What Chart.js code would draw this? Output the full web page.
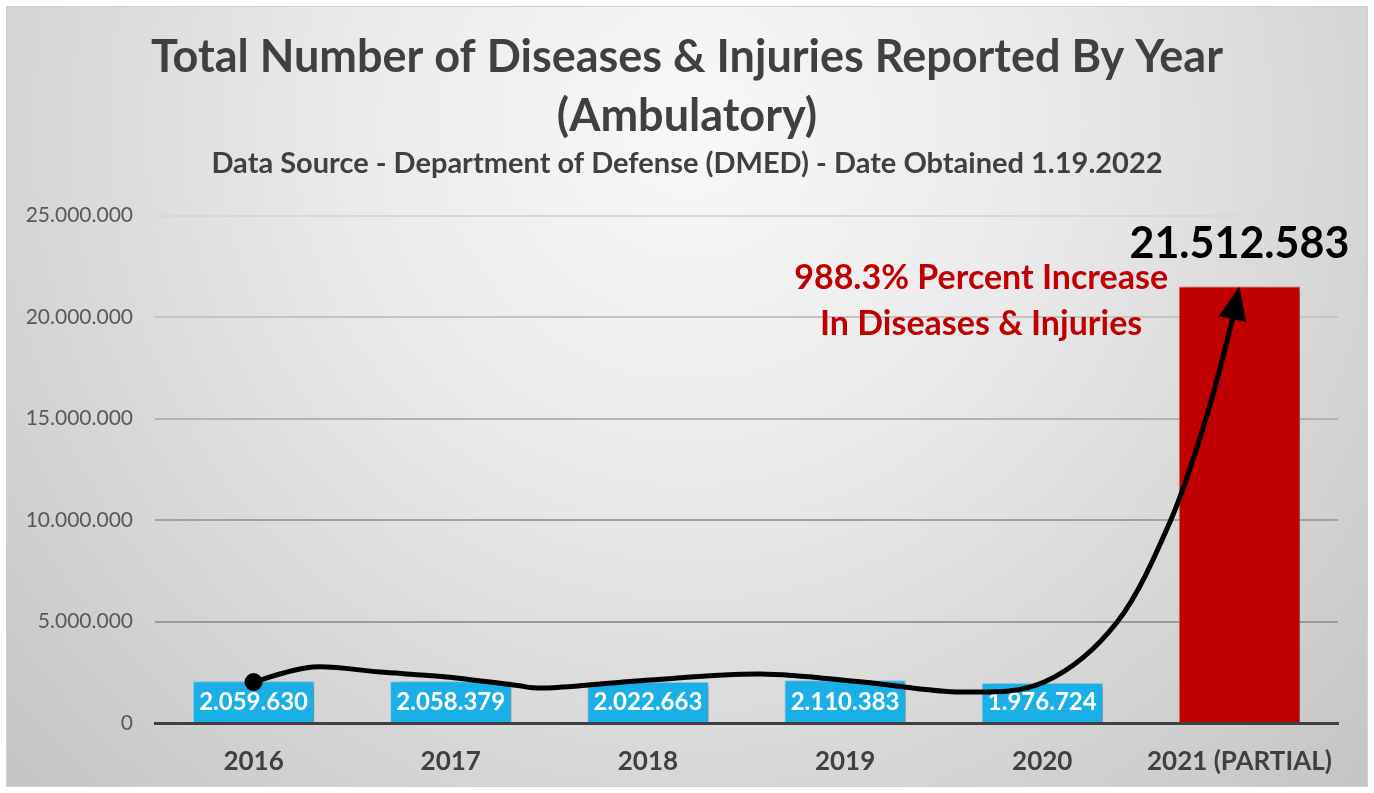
<!DOCTYPE html>
<html>
<head>
<meta charset="utf-8">
<title>Total Number of Diseases &amp; Injuries Reported By Year</title>
<script src="https://cdn.jsdelivr.net/npm/chart.js@4.4.1/dist/chart.umd.min.js"></script>
<style>
    html, body { margin: 0; padding: 0; background: #fff; }
    #chart { display: block; }
</style>
</head>
<body>
<canvas id="chart" width="1374" height="793"></canvas>
<script>
// Chart data
const years = ['2016', '2017', '2018', '2019', '2020', '2021 (PARTIAL)'];
const reported = [2059630, 2058379, 2022663, 2110383, 1976724, 21512583];
const yTicks = [0, 5000000, 10000000, 15000000, 20000000, 25000000];

// Hand drawn arrow, in (category index, value) units
const arrowIdx = [0, 0.30, 0.64, 0.98, 1.32, 1.50, 2.01, 2.57, 3.09, 3.59, 4.01, 4.38, 4.65, 4.83, 4.965, 5.0];
const arrowVal = [2020000, 2760000, 2510000, 2270000, 1870000, 1730000, 2120000, 2420000, 2020000,
                  1530000, 2020000, 4980000, 9960000, 15000000, 19900000, 21500000];

const BLUE = '#1AAFE6';
const RED = '#C00000';
const DARK = '#404040';

function formatNumber(n) {
    return String(n).replace(/\B(?=(\d{3})+(?!\d))/g, '.');
}

const last = reported[reported.length - 1];
const prev = reported[reported.length - 2];
const increase = ((last - prev) / prev * 100).toFixed(1);
const noteLines = [increase + '% Percent Increase', 'In Diseases & Injuries'];

Chart.defaults.font.family = 'Lato, "Open Sans", sans-serif';

/**
 * Grey gradient panel behind everything
 */
const panelBackground = {
    id: 'panelBackground',
    beforeDraw(chart) {
        const { ctx, width, height } = chart;
        ctx.save();
        ctx.fillStyle = '#fff';
        ctx.fillRect(0, 0, width, height);
        const g = ctx.createRadialGradient(690, 130, 0, 690, 130, 950);
        g.addColorStop(0, '#f8f8f8');
        g.addColorStop(0.35, '#ebebeb');
        g.addColorStop(1, '#c4c4c4');
        ctx.fillStyle = g;
        ctx.fillRect(6, 6, width - 12, height - 12);
        ctx.strokeStyle = '#d0d0d0';
        ctx.lineWidth = 1;
        ctx.strokeRect(6.5, 6.5, width - 13, height - 13);
        ctx.restore();
    }
};

/**
 * Soft drop shadow on the bars
 */
const barShadow = {
    id: 'barShadow',
    beforeDatasetDraw(chart) {
        const ctx = chart.ctx;
        ctx.save();
        ctx.shadowColor = 'rgba(0, 0, 0, 0.35)';
        ctx.shadowBlur = 6;
        ctx.shadowOffsetX = 4;
        ctx.shadowOffsetY = 2;
    },
    afterDatasetDraw(chart) {
        chart.ctx.restore();
    }
};

/**
 * Value labels, arrow and annotation
 */
const overlays = {
    id: 'overlays',
    afterDatasetsDraw(chart) {
        const { ctx, scales } = chart;
        const meta = chart.getDatasetMeta(0);

        ctx.save();
        ctx.textAlign = 'center';
        ctx.textBaseline = 'middle';
        meta.data.forEach((bar, i) => {
            const text = formatNumber(reported[i]);
            if (i === reported.length - 1) {
                ctx.font = 'bold 43px Lato';
                ctx.fillStyle = '#000';
                ctx.fillText(text, bar.x, bar.y - 42);
            } else {
                ctx.font = 'bold 24px Lato';
                ctx.fillStyle = '#fff';
                ctx.fillText(text, bar.x, bar.base - 20);
            }
        });

        // red annotation
        ctx.font = 'bold 34px Lato';
        ctx.fillStyle = RED;
        const nx = scales.x.getPixelForValue(3.69);
        ctx.fillText(noteLines[0], nx, scales.y.getPixelForValue(21940000));
        ctx.fillText(noteLines[1], nx, scales.y.getPixelForValue(19670000));

        // arrow
        const pts = arrowIdx.map((v, i) => ({
            x: scales.x.getPixelForValue(v),
            y: scales.y.getPixelForValue(arrowVal[i])
        }));
        const tip = pts[pts.length - 1];
        const curve = pts.slice(0, -1);
        const n = curve.length;
        const at = (i) => i < 0 ? curve[0] : (i >= n ? tip : curve[i]);

        ctx.strokeStyle = '#000';
        ctx.fillStyle = '#000';
        ctx.lineWidth = 5;
        ctx.lineCap = 'round';
        ctx.beginPath();
        ctx.moveTo(curve[0].x, curve[0].y);
        for (let i = 0; i < n - 1; i++) {
            const p0 = at(i - 1), p1 = at(i), p2 = at(i + 1), p3 = at(i + 2);
            ctx.bezierCurveTo(
                p1.x + (p2.x - p0.x) / 6, p1.y + (p2.y - p0.y) / 6,
                p2.x - (p3.x - p1.x) / 6, p2.y - (p3.y - p1.y) / 6,
                p2.x, p2.y
            );
        }
        ctx.stroke();

        // arrow head
        const neck = curve[n - 1];
        const ang = Math.atan2(tip.y - neck.y, tip.x - neck.x);
        const half = 14;
        ctx.beginPath();
        ctx.moveTo(tip.x, tip.y);
        ctx.lineTo(neck.x + Math.cos(ang + Math.PI / 2) * half, neck.y + Math.sin(ang + Math.PI / 2) * half);
        ctx.lineTo(neck.x + Math.cos(ang - Math.PI / 2) * half, neck.y + Math.sin(ang - Math.PI / 2) * half);
        ctx.closePath();
        ctx.fill();

        // start dot
        ctx.beginPath();
        ctx.arc(curve[0].x, curve[0].y, 9, 0, Math.PI * 2);
        ctx.fill();
        ctx.restore();
    }
};

const gridShade = ['rgba(0,0,0,0)', '#9a9a9a', '#a3a3a3', '#b3b3b3', '#c4c4c4', '#d8d8d8'];

new Chart(document.getElementById('chart'), {
    type: 'bar',
    data: {
        labels: years,
        datasets: [{
            data: reported,
            backgroundColor: reported.map((v, i) => i === reported.length - 1 ? RED : BLUE),
            borderColor: reported.map((v, i) => i === reported.length - 1 ? '#e07070' : '#8fd6f2'),
            borderWidth: 1,
            categoryPercentage: 1,
            barPercentage: 0.615
        }]
    },
    options: {
        responsive: false,
        animation: false,
        layout: {
            padding: 0
        },
        plugins: {
            legend: { display: false },
            tooltip: { enabled: false },
            title: {
                display: true,
                text: ['Total Number of Diseases & Injuries Reported By Year', '(Ambulatory)'],
                color: DARK,
                font: { size: 45, weight: 'bold', lineHeight: 1.31 },
                padding: { top: 28, bottom: 0 }
            },
            subtitle: {
                display: true,
                text: 'Data Source - Department of Defense (DMED) - Date Obtained 1.19.2022',
                color: DARK,
                font: { size: 29, weight: 'bold', lineHeight: 1.2 },
                padding: { top: 0, bottom: 35 }
            }
        },
        scales: {
            x: {
                z: 1,
                grid: { display: false, drawTicks: false },
                border: { display: true, color: DARK, width: 3 },
                ticks: {
                    color: DARK,
                    font: { size: 26, weight: 'bold' },
                    padding: 23,
                    maxRotation: 0
                },
                afterFit(scale) { scale.height = 70; }
            },
            y: {
                min: yTicks[0],
                max: yTicks[yTicks.length - 1],
                afterBuildTicks(scale) {
                    scale.ticks = yTicks.map(v => ({ value: v }));
                },
                grid: {
                    drawTicks: false,
                    lineWidth: 2,
                    color: ctx => gridShade[ctx.index] || '#bbb'
                },
                border: { display: false },
                ticks: {
                    color: '#595959',
                    font: { size: 21 },
                    padding: 22,
                    callback: v => formatNumber(v)
                },
                afterFit(scale) { scale.width = 155; }
            },
            // empty right gutter so the title stays centred on the page
            gutter: {
                position: 'right',
                grid: { display: false, drawTicks: false },
                border: { display: false },
                ticks: { display: false },
                afterFit(scale) { scale.width = 36; }
            }
        }
    },
    plugins: [panelBackground, barShadow, overlays]
});
</script>
</body>
</html>
